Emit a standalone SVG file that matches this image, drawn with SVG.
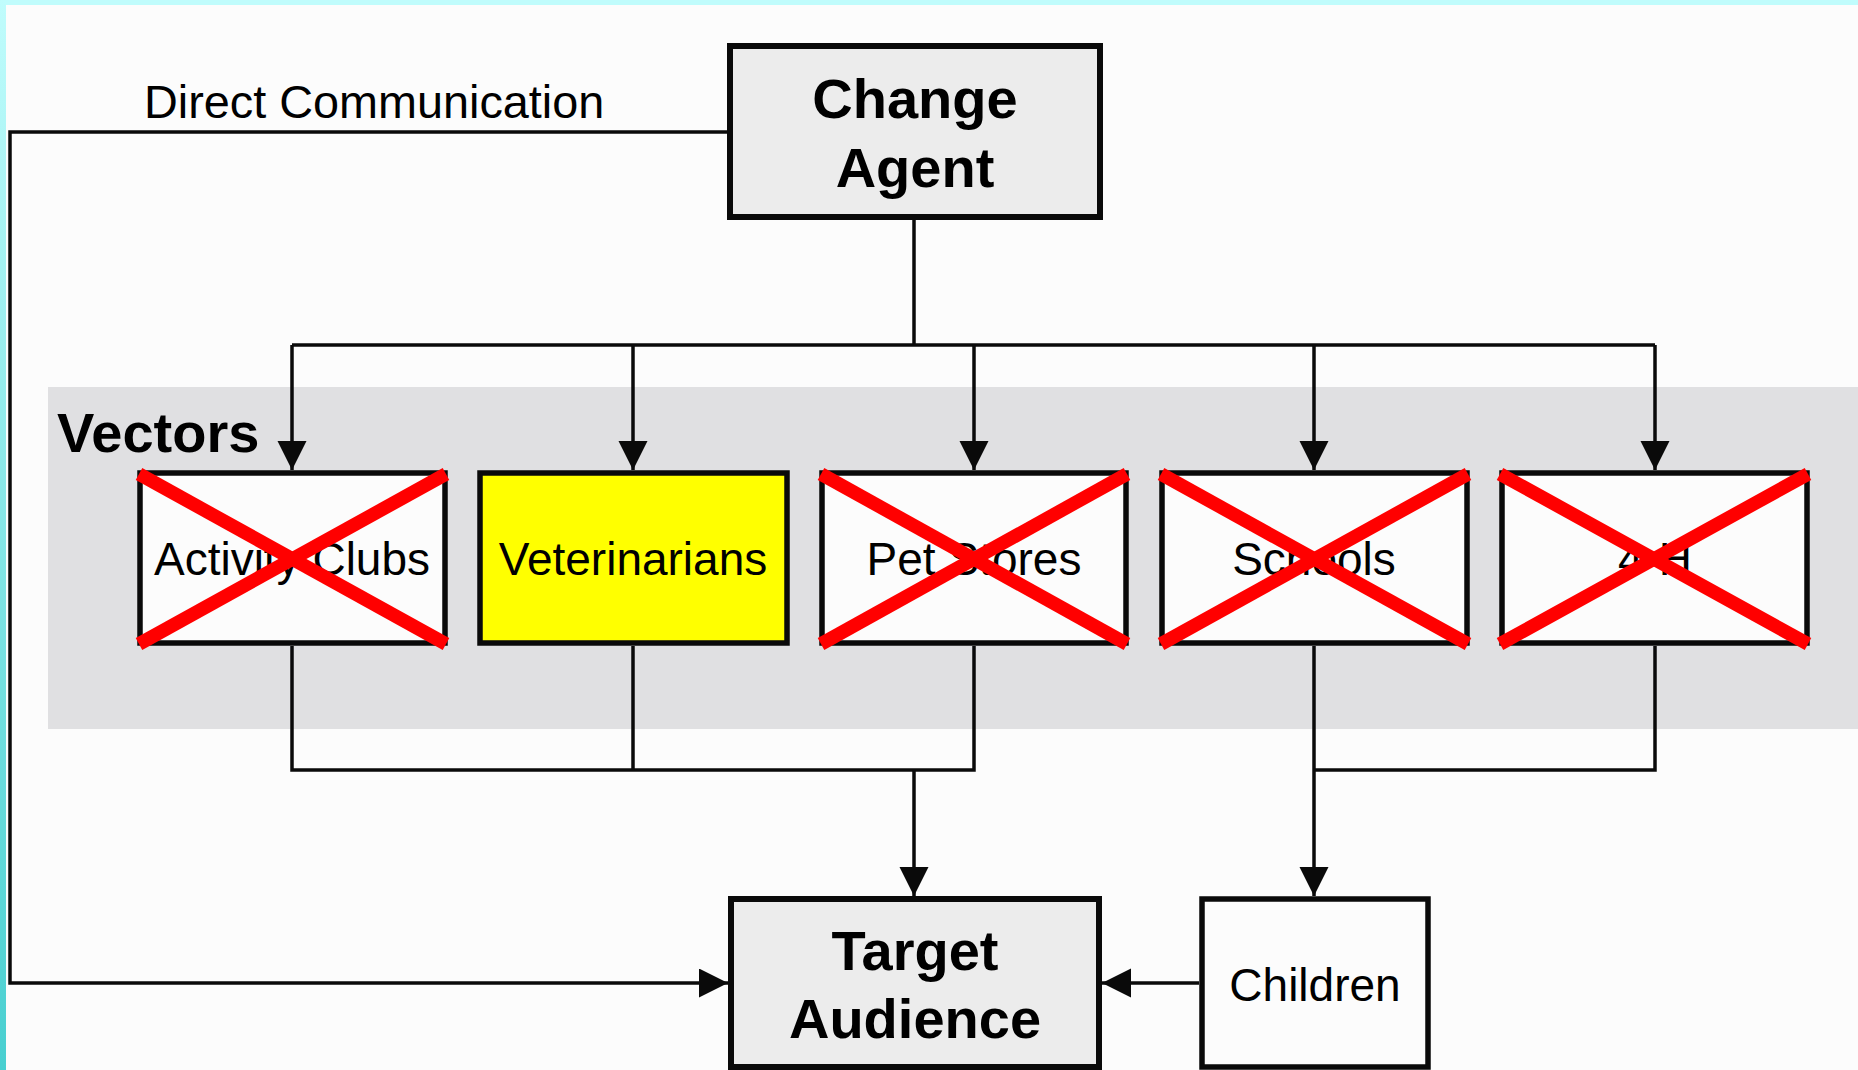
<svg xmlns="http://www.w3.org/2000/svg" width="1858" height="1070" viewBox="0 0 1858 1070">
<defs>
<linearGradient id="side" x1="0" y1="0" x2="0" y2="1">
<stop offset="0" stop-color="#c0fcfc"/>
<stop offset="1" stop-color="#48cfd0"/>
</linearGradient>
<marker id="arr" markerUnits="userSpaceOnUse" markerWidth="30" markerHeight="30" refX="29" refY="14.5" orient="auto">
<path d="M0,0 L29,14.5 L0,29 z" fill="#0a0a0a"/>
</marker>
<style>
.bold{font-family:"Liberation Sans",Arial,sans-serif;font-weight:bold;font-size:56px;fill:#000;text-anchor:middle}
.reg{font-family:"Liberation Sans",Arial,sans-serif;font-size:46px;fill:#000;text-anchor:middle}
.box{stroke:#0a0a0a;stroke-width:6}
.vec{fill:#fcfcfc;stroke:#0a0a0a;stroke-width:5.5}
.x{stroke:#ff0000;stroke-width:13.5;stroke-linecap:butt}
.ln{fill:none;stroke:#0a0a0a;stroke-width:3.5}
</style>
</defs>
<rect x="0" y="0" width="1858" height="1070" fill="#fcfcfc"/>
<rect x="0" y="0" width="1858" height="5" fill="#c0fcfc"/>
<rect x="0" y="0" width="6" height="1070" fill="url(#side)"/>
<rect id="vectors-band" x="48" y="387" width="1810" height="342" fill="#e0e0e2"/>
<text x="57" y="452" class="bold" style="text-anchor:start">Vectors</text>
<text x="144" y="118" class="reg" style="text-anchor:start;font-size:46.8px">Direct Communication</text>

<g id="connectors">
<path class="ln" d="M730,132 H10 V983 H728" marker-end="url(#arr)"/>
<path class="ln" d="M914,220 V345"/>
<path class="ln" d="M292,345 H1655"/>
<path class="ln" d="M292,345 V470" marker-end="url(#arr)"/>
<path class="ln" d="M633,345 V470" marker-end="url(#arr)"/>
<path class="ln" d="M974,345 V470" marker-end="url(#arr)"/>
<path class="ln" d="M1314,345 V470" marker-end="url(#arr)"/>
<path class="ln" d="M1655,345 V470" marker-end="url(#arr)"/>
<path class="ln" d="M292,646 V770 H974 V646"/>
<path class="ln" d="M633,646 V770"/>
<path class="ln" d="M914,770 V896" marker-end="url(#arr)"/>
<path class="ln" d="M1314,646 V896" marker-end="url(#arr)"/>
<path class="ln" d="M1655,646 V770 H1314"/>
<path class="ln" d="M1199,983 H1102" marker-end="url(#arr)"/>
</g>

<g id="change-agent">
<rect class="box" x="730" y="46" width="370" height="171" fill="#ececec"/>
<text class="bold" x="915" y="118">Change</text>
<text class="bold" x="915" y="187">Agent</text>
</g>

<g id="activity-clubs">
<rect class="vec" x="140" y="473" width="305" height="170"/>
<text class="reg" x="292" y="575">Activity Clubs</text>
<line class="x" x1="139" y1="474" x2="446" y2="644"/>
<line class="x" x1="139" y1="644" x2="446" y2="474"/>
</g>

<g id="veterinarians">
<rect class="vec" x="480" y="473" width="307" height="170" style="fill:#ffff00"/>
<text class="reg" x="633" y="575">Veterinarians</text>
</g>

<g id="pet-stores">
<rect class="vec" x="822" y="473" width="304" height="170"/>
<text class="reg" x="974" y="575">Pet Stores</text>
<line class="x" x1="821" y1="474" x2="1127" y2="644"/>
<line class="x" x1="821" y1="644" x2="1127" y2="474"/>
</g>

<g id="schools">
<rect class="vec" x="1162" y="473" width="305" height="170"/>
<text class="reg" x="1314" y="575">Schools</text>
<line class="x" x1="1161" y1="474" x2="1468" y2="644"/>
<line class="x" x1="1161" y1="644" x2="1468" y2="474"/>
</g>

<g id="four-h">
<rect class="vec" x="1502" y="473" width="305" height="170"/>
<text class="reg" x="1655" y="575">4-H</text>
<line class="x" x1="1500" y1="474" x2="1808" y2="644"/>
<line class="x" x1="1500" y1="644" x2="1808" y2="474"/>
</g>

<g id="target-audience">
<rect class="box" x="731" y="899" width="368" height="168" fill="#ececec"/>
<text class="bold" x="915" y="970">Target</text>
<text class="bold" x="915" y="1038">Audience</text>
</g>

<g id="children">
<rect class="box" x="1202" y="899" width="226" height="168" fill="#fcfcfc" style="stroke-width:5.5"/>
<text class="reg" x="1315" y="1001">Children</text>
</g>
</svg>
